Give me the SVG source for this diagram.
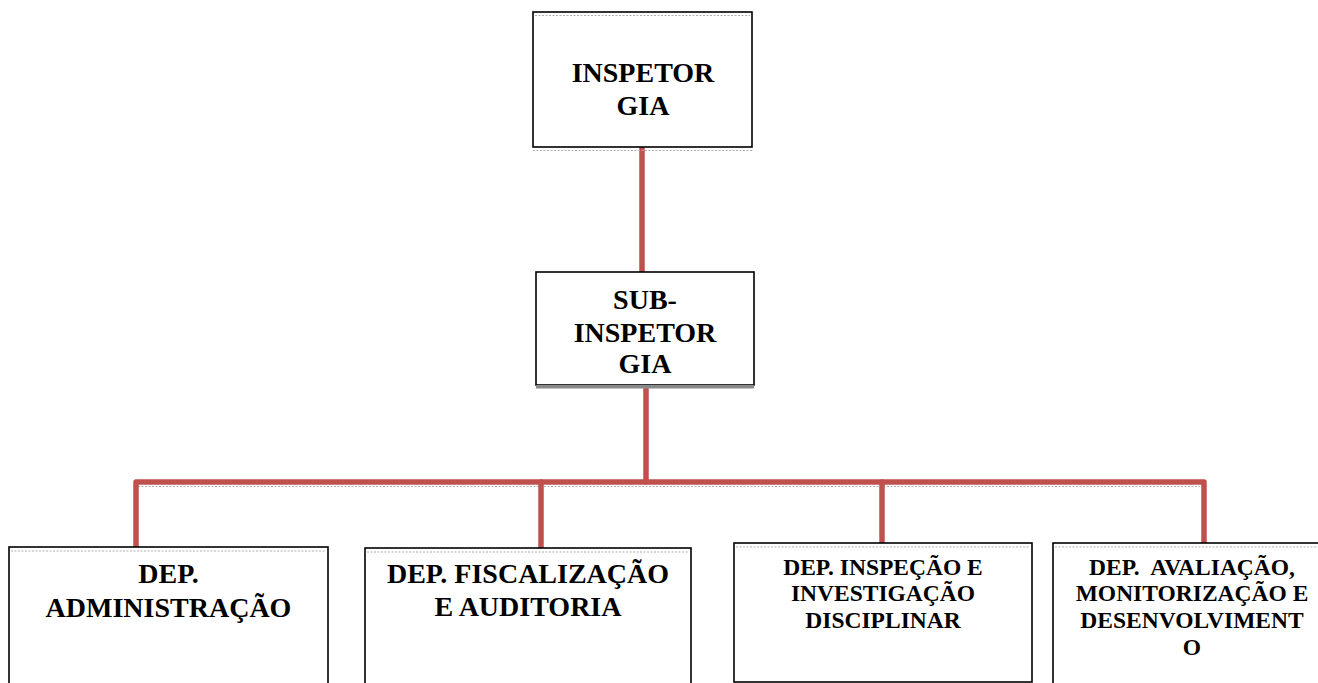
<svg xmlns="http://www.w3.org/2000/svg" width="1318" height="683" viewBox="0 0 1318 683">
<style>
.box{fill:#fff;stroke:#000;stroke-width:1.6}
text{font-family:'Liberation Serif','Times New Roman',Times,serif;font-weight:700;fill:#000;text-anchor:middle}
.big{font-size:28px}
.sm{font-size:23.5px}
.dot{stroke:#b0b0b0;stroke-width:1.2;stroke-dasharray:2 1.5;fill:none}
.con{stroke:#C0504D;stroke-width:5.5;fill:none;stroke-linecap:round;stroke-linejoin:round}
</style>
<rect width="1318" height="683" fill="#fff"/>
<g id="connectors">
<line class="dot" x1="138" y1="486.5" x2="1200" y2="486.5"/>
<path class="con" d="M642 147 V272"/>
<path class="con" d="M646 386 V482"/>
<path class="con" d="M136 547 V482 H1204 V543"/>
<path class="con" d="M541 482 V548"/>
<path class="con" d="M882 482 V543"/>
</g>
<g id="inspetor">
<rect class="box" x="533" y="12" width="219" height="135"/>
<line class="dot" x1="535" y1="15.5" x2="750" y2="15.5"/>
<line class="dot" x1="533" y1="150.5" x2="752" y2="150.5"/>
<text class="big" x="643" y="82" font-family="Liberation Serif, serif">INSPETOR</text>
<text class="big" x="643" y="115" font-family="Liberation Serif, serif">GIA</text>
</g>
<g id="subinspetor">
<rect class="box" x="536" y="272" width="218" height="113"/>
<rect x="536" y="385" width="218" height="3.5" fill="#8a8a8a"/>
<text class="big" x="645" y="309">SUB-</text>
<text class="big" x="645" y="342">INSPETOR</text>
<text class="big" x="645" y="373">GIA</text>
</g>
<g id="dep-admin">
<rect class="box" x="9" y="547" width="319" height="150"/>
<line class="dot" x1="11" y1="551" x2="326" y2="551"/>
<text class="big" x="168.5" y="583">DEP.</text>
<text class="big" x="168.5" y="617">ADMINISTRAÇÃO</text>
</g>
<g id="dep-fiscal">
<rect class="box" x="365" y="548" width="326" height="150"/>
<line class="dot" x1="367" y1="552" x2="689" y2="552"/>
<text class="big" x="528" y="583">DEP. FISCALIZAÇÃO</text>
<text class="big" x="528" y="616">E AUDITORIA</text>
</g>
<g id="dep-inspecao">
<rect class="box" x="734" y="543" width="298" height="139"/>
<line class="dot" x1="736" y1="547" x2="1030" y2="547"/>
<text class="sm" x="883" y="575">DEP. INSPEÇÃO E</text>
<text class="sm" x="883" y="601">INVESTIGAÇÃO</text>
<text class="sm" x="883" y="628">DISCIPLINAR</text>
</g>
<g id="dep-avaliacao">
<rect class="box" x="1053" y="543" width="280" height="150"/>
<line class="dot" x1="1055" y1="547" x2="1318" y2="547"/>
<text class="sm" x="1192" y="575" xml:space="preserve">DEP.  AVALIAÇÃO,</text>
<text class="sm" x="1192" y="601">MONITORIZAÇÃO E</text>
<text class="sm" x="1192" y="628">DESENVOLVIMENT</text>
<text class="sm" x="1192" y="655">O</text>
</g>
</svg>
